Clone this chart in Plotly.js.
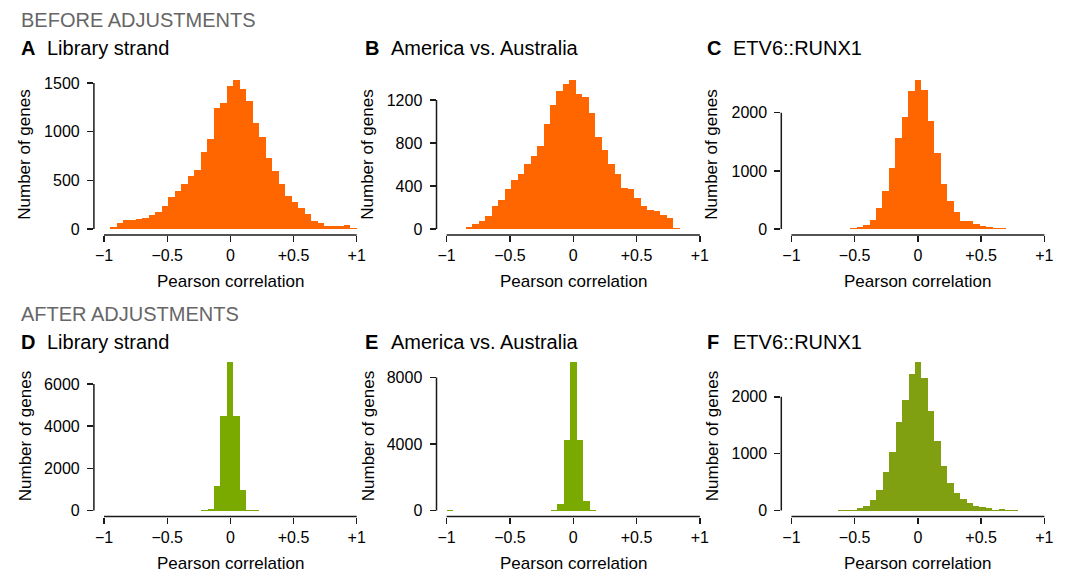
<!DOCTYPE html>
<html>
<head>
<meta charset="utf-8">
<script src="https://cdn.plot.ly/plotly-3.0.1.min.js"></script>
<style>html,body{margin:0;padding:0;background:#fff;}#chart{width:1067px;height:572px;}</style>
</head>
<body>
<div id="chart"></div>
<script>
// ---- Data ----
const xTickVals = [-1, -0.5, 0, 0.5, 1];
const xTickText = ['\u22121', '\u22120.5', '0', '+0.5', '+1'];

// Panel A: Library strand (before)
const binStartA = -0.9525, binWidthA = 0.05138;
const countsA = [20, 65, 92, 92, 103, 116, 147, 178, 233, 325, 387, 466, 541, 610, 788, 928, 1247, 1298, 1469, 1527,
                 1442, 1312, 1092, 942, 733, 599, 459, 339, 281, 212, 151, 82, 58, 27, 27, 34, 38, 7];
const yTicksA = [0, 500, 1000, 1500];

// Panel B: America vs. Australia (before)
const binStartB = -1.0026, binWidthB = 0.05118;
const countsB = [3, 0, 3, 22, 50, 74, 124, 217, 269, 371, 458, 514, 603, 684, 774, 978, 1154, 1281, 1346, 1383,
                 1253, 1231, 1080, 854, 736, 603, 511, 384, 374, 291, 217, 179, 170, 133, 99, 9];
const yTicksB = [0, 400, 800, 1200];

// Panel C: ETV6::RUNX1 (before)
const binStartC = -0.6385, binWidthC = 0.05121;
const countsC = [6, 6, 17, 29, 69, 155, 361, 653, 1043, 1570, 1920, 2378, 2556, 2396, 1857, 1307, 779, 487, 287,
                 143, 143, 80, 52, 29, 23, 11, 6, 6, 2];
const yTicksC = [0, 1000, 2000];

// Panel D: Library strand (after)
const binStartD = -0.2319, binWidthD = 0.0512;
const countsD = [10, 79, 1150, 4489, 7040, 4489, 992, 47, 10];
const yTicksD = [0, 2000, 4000, 6000];

// Panel E: America vs. Australia (after)
const binStartE = -0.9979, binWidthE = 0.0512;
const countsE = [15, 0, 0, 0, 0, 0, 0, 0, 0, 0, 0, 0, 0, 0, 0, 0, 10, 400, 4260, 8940, 4260, 560, 10];
const yTicksE = [0, 4000, 8000];

// Panel F: ETV6::RUNX1 (after)
const binStartF = -0.635, binWidthF = 0.0510;
const countsF = [6, 12, 18, 41, 88, 187, 363, 673, 1035, 1550, 1942, 2398, 2614, 2333, 1754, 1228, 784, 491, 304,
                 199, 140, 88, 64, 47, 18, 23, 12, 6];
const yTicksF = [0, 1000, 2000];

const panelLetters = ['A', 'B', 'C', 'D', 'E', 'F'];
const panelTitles = ['Library strand', 'America vs. Australia', 'ETV6::RUNX1',
                     'Library strand', 'America vs. Australia', 'ETV6::RUNX1'];
const rowHeaders = ['BEFORE ADJUSTMENTS', 'AFTER ADJUSTMENTS'];
const yTitle = 'Number of genes';
const xTitle = 'Pearson correlation';

// ---- Styling / layout ----
const W = 1067, H = 572;
const ORANGE = '#FF6600', GREEN = '#7AAA00', OLIVE = '#80A012';
const FONT = 'Liberation Sans, Arial, Helvetica, sans-serif';
const AX = '#1a1a1a';

const colPx = [[93.9, 366.8], [436.5, 710.0], [781.3, 1054.5]];
const rowPx = [[74.5, 235.0], [356.0, 516.5]];

const panels = [
  {start: binStartA, width: binWidthA, counts: countsA, yt: yTicksA, color: ORANGE, r: 0, c: 0},
  {start: binStartB, width: binWidthB, counts: countsB, yt: yTicksB, color: ORANGE, r: 0, c: 1},
  {start: binStartC, width: binWidthC, counts: countsC, yt: yTicksC, color: ORANGE, r: 0, c: 2},
  {start: binStartD, width: binWidthD, counts: countsD, yt: yTicksD, color: GREEN, r: 1, c: 0},
  {start: binStartE, width: binWidthE, counts: countsE, yt: yTicksE, color: GREEN, r: 1, c: 1},
  {start: binStartF, width: binWidthF, counts: countsF, yt: yTicksF, color: OLIVE, r: 1, c: 2}
];

const data = [];
const layout = {
  width: W, height: H,
  margin: {l: 0, r: 0, t: 0, b: 0},
  paper_bgcolor: '#fff', plot_bgcolor: '#fff',
  showlegend: false, bargap: 0,
  font: {family: FONT, color: '#000'},
  shapes: [], annotations: []
};

const px2x = p => p / W;
const px2y = p => 1 - p / H;

panels.forEach((p, i) => {
  const n = i === 0 ? '' : String(i + 1);
  const xa = 'x' + n, ya = 'y' + n;
  const centers = p.counts.map((_, k) => p.start + (k + 0.5) * p.width);
  data.push({
    type: 'bar', x: centers, y: p.counts, width: p.width,
    marker: {color: p.color, line: {width: 0}},
    xaxis: xa, yaxis: ya, hoverinfo: 'x+y'
  });
  const M = Math.max(...p.counts);
  const cp = colPx[p.c], rp = rowPx[p.r];
  layout['xaxis' + n] = {
    domain: [px2x(cp[0]), px2x(cp[1])], range: [-1.08, 1.08], anchor: ya,
    tickvals: xTickVals, ticktext: xTickText, ticks: 'outside', ticklen: 6, tickwidth: 1.3, tickcolor: AX,
    showline: false, showgrid: false, zeroline: false,
    tickfont: {size: 16, family: FONT, color: '#000'}, fixedrange: true
  };
  layout['yaxis' + n] = {
    domain: [px2y(rp[1]), px2y(rp[0])], range: [-0.04 * M, 1.04 * M], anchor: xa,
    tickvals: p.yt, ticks: 'outside', ticklen: 6, tickwidth: 1.3, tickcolor: AX,
    showline: false, showgrid: false, zeroline: false, ticklabelstandoff: 4,
    tickfont: {size: 16, family: FONT, color: '#000'}, fixedrange: true
  };
  // R-style axis lines spanning only the tick range
  layout.shapes.push({type: 'line', xref: xa, yref: ya + ' domain',
    x0: xTickVals[0], x1: xTickVals[xTickVals.length - 1], y0: 0, y1: 0,
    line: {color: AX, width: 1.5}});
  layout.shapes.push({type: 'line', xref: xa + ' domain', yref: ya,
    x0: 0, x1: 0, y0: p.yt[0], y1: p.yt[p.yt.length - 1],
    line: {color: AX, width: 1.5}});

  // Panel title
  const titleY = p.r === 0 ? 48 : 342.3;
  const letterX = [19, 363, 705][p.c];
  layout.annotations.push({xref: 'paper', yref: 'paper', x: px2x(letterX), y: px2y(titleY),
    xanchor: 'left', yanchor: 'middle', showarrow: false,
    text: '<b>' + panelLetters[i] + '</b>', font: {size: 20, family: FONT, color: '#000'}});
  layout.annotations.push({xref: 'paper', yref: 'paper', x: px2x(letterX + 26), y: px2y(titleY),
    xanchor: 'left', yanchor: 'middle', showarrow: false,
    text: panelTitles[i], font: {size: 20, family: FONT, color: '#000'}});

  // Axis titles
  const yTitleX = [25, 368, 712][p.c];
  layout.annotations.push({xref: 'paper', yref: 'paper', x: px2x(yTitleX), y: px2y((rp[0] + rp[1]) / 2),
    xanchor: 'center', yanchor: 'middle', showarrow: false, textangle: -90,
    text: yTitle, font: {size: 17, family: FONT, color: '#000'}});
  layout.annotations.push({xref: 'paper', yref: 'paper', x: px2x((cp[0] + cp[1]) / 2), y: px2y(p.r === 0 ? 281 : 563),
    xanchor: 'center', yanchor: 'middle', showarrow: false,
    text: xTitle, font: {size: 17, family: FONT, color: '#000'}});
});

// Row headers
[19.7, 314].forEach((yy, r) => {
  layout.annotations.push({xref: 'paper', yref: 'paper', x: px2x(19), y: px2y(yy),
    xanchor: 'left', yanchor: 'middle', showarrow: false,
    text: rowHeaders[r], font: {size: 20, family: FONT, color: '#666666'}});
});

Plotly.newPlot('chart', data, layout, {displayModeBar: false, staticPlot: true});
</script>
</body>
</html>
